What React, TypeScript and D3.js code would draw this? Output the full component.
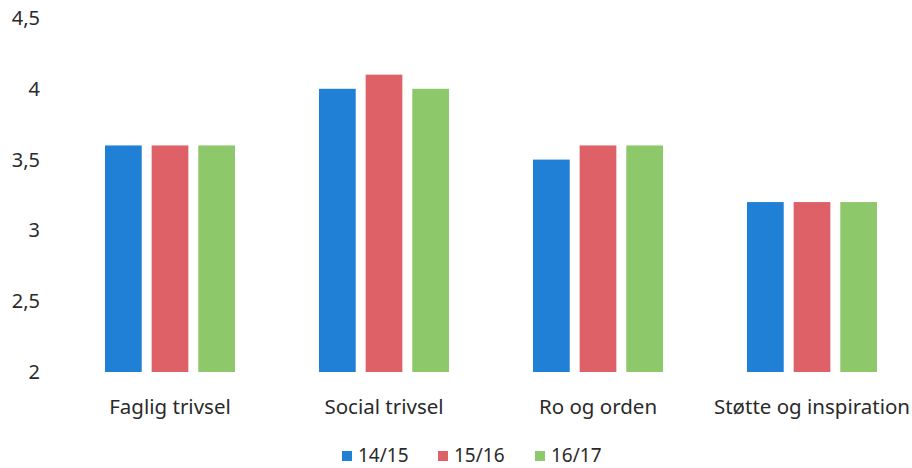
import React from "react";
import * as d3 from "d3";

const categories = ["Faglig trivsel", "Social trivsel", "Ro og orden", "Støtte og inspiration"];
const seriesNames = ["14/15", "15/16", "16/17"];
const s1415 = [3.6, 4.0, 3.5, 3.2];
const s1516 = [3.6, 4.1, 3.6, 3.2];
const s1617 = [3.6, 4.0, 3.6, 3.2];
const yTicks = [2, 2.5, 3, 3.5, 4, 4.5];
const colors = ["#1f80d6", "#de6168", "#8dc86a"];

const W = 912;
const H = 468;
const FONT = "'Noto Sans', sans-serif";
const TXT = "#2a2a2a";

export default function App() {
  const series = [s1415, s1516, s1617];
  const x = d3.scaleBand<string>().domain(categories).range([63, 919]).paddingInner(0).paddingOuter(0);
  const xs = d3.scaleBand<string>().domain(seriesNames).range([-65, 65]).paddingInner(0.213).paddingOuter(0);
  const y = d3.scaleLinear().domain([2, 4.5]).range([372, 18]);
  const fmt = (v: number) => String(v).replace(".", ",");

  const legendX = [342, 438, 535];

  return (
    <div style={{ position: "absolute", left: 0, top: 0 }}>
      <svg width={W} height={H} style={{ display: "block", background: "#fff" }}>
        {yTicks.map((t) => (
          <text key={t} x={40} y={y(t)} dy="0.35em" textAnchor="end" fontFamily={FONT} fontSize={20} fill={TXT}>
            {fmt(t)}
          </text>
        ))}
        {categories.map((c, i) => {
          const cx = (x(c) ?? 0) + x.bandwidth() / 2;
          return (
            <g key={c}>
              {series.map((s, j) => {
                const bx = cx + (xs(seriesNames[j]) ?? 0);
                return (
                  <rect key={j} x={bx} y={y(s[i])} width={xs.bandwidth()} height={y(2) - y(s[i])} fill={colors[j]} />
                );
              })}
              <text x={cx} y={407} dy="0.35em" textAnchor="middle" fontFamily={FONT} fontSize={20.5} fill={TXT}>
                {c}
              </text>
            </g>
          );
        })}
        {seriesNames.map((n, j) => (
          <g key={n}>
            <rect x={legendX[j]} y={451} width={10} height={10} fill={colors[j]} />
            <text x={legendX[j] + 16} y={455} dy="0.35em" fontFamily={FONT} fontSize={19} fill={TXT}>
              {n}
            </text>
          </g>
        ))}
      </svg>
    </div>
  );
}
